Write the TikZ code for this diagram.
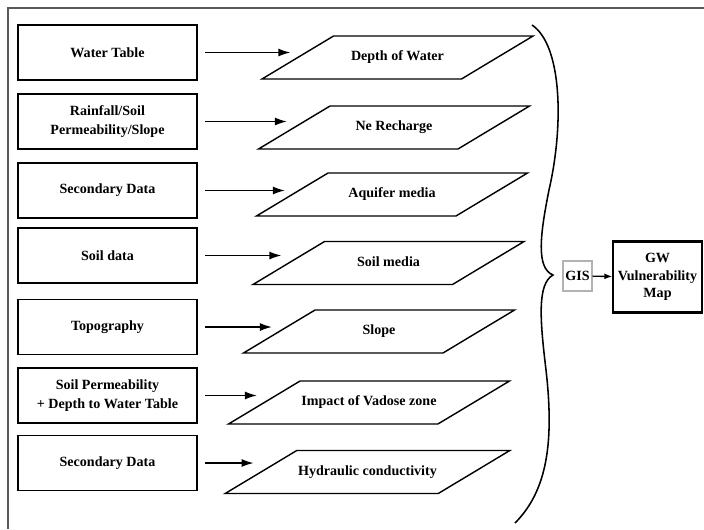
\documentclass[tikz,border=0pt]{standalone}
\usepackage{fontspec}
\setmainfont{Liberation Serif}
\usetikzlibrary{shapes.geometric,arrows.meta}

\begin{document}
\begin{tikzpicture}[x=0.025cm,y=-0.025cm,
  font=\bfseries\fontsize{10}{14}\selectfont,
  srcbox/.style={draw,line width=1.2pt,minimum width=4.475cm,minimum height=1.375cm,align=center,inner sep=1pt},
  layer/.style={draw,line width=1pt,trapezium,trapezium left angle=31,trapezium right angle=149,
    trapezium stretches body,minimum width=6.775cm,text height=0.25cm,text depth=0.08cm,
    inner xsep=1pt,inner ysep=0.3725cm},
  feed/.style={line width=1pt,-{Latex[length=3mm,width=2mm]},shorten <=1.8mm,shorten >=1.5mm}]
  \useasboundingbox (0,0) rectangle (704,529);
  % frame, open on the right and at the bottom
  \draw[line width=1.5pt,gray!70!black] (704,8) -- (8,8) -- (8,529);

  % data sources
  \node[srcbox] (water) at (107.5,52.5) {Water Table};
  \node[srcbox] (rain) at (107.5,121.5) {Rainfall/Soil\\Permeability/Slope};
  \node[srcbox] (second) at (107.5,190.5) {Secondary Data};
  \node[srcbox] (soil) at (107.5,255.5) {Soil data};
  \node[srcbox] (topo) at (107.5,327) {Topography};
  \node[srcbox] (perm) at (107.5,395.5) {Soil Permeability\\+ Depth to Water Table};
  \node[srcbox] (secondb) at (107.5,463) {Secondary Data};

  % derived layers
  \node[layer] (depth) at (397.5,57.5) {Depth of Water};
  \node[layer] (recharge) at (394,127.5) {Ne Recharge};
  \node[layer] (aquifer) at (392,194.5) {Aquifer media};
  \node[layer] (media) at (388.5,263) {Soil media};
  \node[layer] (slope) at (379,331.5) {Slope};
  \node[layer] (vadose) at (369,402.5) {Impact of Vadose zone};
  \node[layer] (hydro) at (367.5,472) {Hydraulic conductivity};

  \foreach \s/\l in {water/depth,rain/recharge,second/aquifer,soil/media,
      topo/slope,perm/vadose,secondb/hydro}
    \draw[feed] (\s.east) -- (\s.east -| \l.west);

  % brace gathering the layers
  \draw[line width=1.1pt] (532,25) .. controls (562,45) and (564,125) .. (549,190)
    .. controls (540,235) and (536,268) .. (553,275)
    .. controls (537,284) and (540,320) .. (546,370)
    .. controls (554,440) and (548,490) .. (515,523);

  \node[draw=gray!60,line width=0.8pt,minimum width=0.725cm,minimum height=0.75cm,inner sep=1pt] (gis) at (577.5,276) {GIS};
  \node[draw,line width=1pt,minimum width=2.225cm,minimum height=1.75cm,inner sep=1pt,align=center,
    font=\bfseries\fontsize{10}{12.5}\selectfont] (map) at (657.5,277) {GW\\Vulnerability\\Map};
  \draw[line width=2.5pt] (map.north west) -- (map.north east);
  \draw[line width=2.5pt] (map.south west) -- (map.south east);
  \draw[line width=1pt,-{Latex[length=2mm,width=1.5mm]}] (gis) -- (map);
\end{tikzpicture}
\end{document}
